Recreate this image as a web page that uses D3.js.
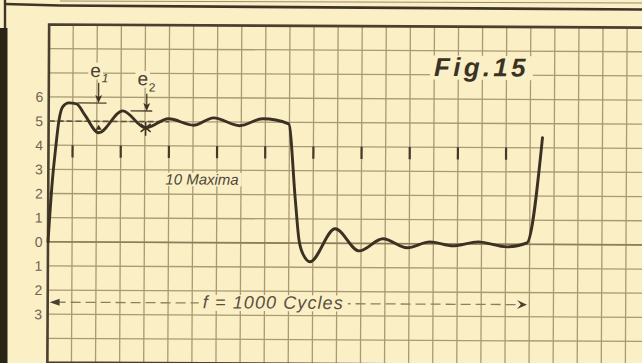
<!DOCTYPE html>
<html>
<head>
<meta charset="utf-8">
<script src="https://cdn.jsdelivr.net/npm/d3@7"></script>
<style>
  html, body { margin: 0; padding: 0; background: #fbefc6; overflow: hidden; }
  svg { display: block; }
</style>
</head>
<body>
<svg id="chart" width="642" height="363"></svg>
<script>
// ---- data -------------------------------------------------------------
// Grid: one cell = one unit on both axes
const gridColumns = d3.range(0, 26);          // vertical rulings
const gridRows = d3.range(-5, 10);            // horizontal rulings

// Amplitude scale printed at the left (below zero the sign is omitted)
const yTickValues = [6, 5, 4, 3, 2, 1, 0, -1, -2, -3];
const yTickLabels = ["6", "5", "4", "3", "2", "1", "0", "1", "2", "3"];

// Square-wave response with overshoot and ringing (x in grid cells)
const waveX = [0, 0.17, 0.29, 0.42, 0.58, 0.83, 1.16, 1.5, 2.08, 3.07, 4.03, 4.98,
               6.02, 6.85, 7.93, 8.89, 9.97, 10.26, 10.42, 10.63, 10.88, 11.92,
               12.92, 13.91, 14.91, 15.86, 16.82, 17.86, 19.06, 19.89, 20.51];
const waveY = [0, 2.57, 3.81, 4.97, 5.59, 5.76, 5.72, 5.26, 4.53, 5.44, 4.74, 5.12,
               4.86, 5.17, 4.85, 5.14, 4.94, 1.79, 0.14, -0.53, -0.77, 0.60,
               -0.31, 0.20, -0.17, 0.08, -0.08, 0.09, -0.11, 0.06, 4.42];

// Positions of the ten maxima marked under the upper half-cycle
const maximaX = [1, 3, 5, 7, 9, 11, 13, 15, 17, 19];

// Overshoot levels e1, e2 and the steady level
const e1Level = 5.76, e2Level = 5.44, steadyLevel = 5;

const figTitle = "Fig.15";
const maximaLabel = "10 Maxima";
const freqLabel = "f = 1000 Cycles";

// ---- drawing ----------------------------------------------------------
const W = 642, H = 363;
const paper = "#fbefc6";
const ink = "#3a3122";
const ruling = "#a99a71";

const svg = d3.select("#chart");
svg.append("rect").attr("width", W).attr("height", H).attr("fill", paper);

// page edge rules and the dark binding strip on the left
svg.append("path").attr("d", "M5,4 L60,5.5 L642,9.5")
  .attr("fill", "none").attr("stroke", "#3e3526").attr("stroke-width", 2.6);
svg.append("path").attr("d", "M60,1 L642,3")
  .attr("fill", "none").attr("stroke", "#9a8c6c").attr("stroke-width", 1);
svg.append("line").attr("x1", 5).attr("x2", 5).attr("y1", 0).attr("y2", 29)
  .attr("stroke", "#3e3526").attr("stroke-width", 2.4);
svg.append("rect").attr("x", 0).attr("y", 28).attr("width", 7.5).attr("height", H - 28)
  .attr("fill", "#2b2519");

const x = d3.scaleLinear().domain([0, 24]).range([48, 626]);
const y = d3.scaleLinear().domain([-5, 9]).range([362.5, 24.5]);

const g = svg.append("g").attr("transform", "rotate(0.3,48,242)");

// grid
const grid = g.append("g").attr("stroke", ruling).attr("stroke-width", 1.3);
grid.selectAll("line.v").data(gridColumns).join("line").attr("class", "v")
  .attr("x1", d => x(d)).attr("x2", d => x(d))
  .attr("y1", y(9)).attr("y2", y(-5));
grid.selectAll("line.h").data(gridRows).join("line").attr("class", "h")
  .attr("x1", x(0)).attr("x2", x(25))
  .attr("y1", d => y(d)).attr("y2", d => y(d));

// heavier zero line
g.append("line").attr("x1", x(0)).attr("x2", x(25)).attr("y1", y(0)).attr("y2", y(0))
  .attr("stroke", "#8c7e5c").attr("stroke-width", 1.6);

// frame
g.append("path")
  .attr("d", `M${x(25)},${y(9)} L${x(0)},${y(9)} L${x(0)},${y(-5)} L${x(25)},${y(-5)}`)
  .attr("fill", "none").attr("stroke", "#4a402f").attr("stroke-width", 2.6);

// layers: marks, then paper patches behind labels, then labels
const markLayer = g.append("g");
const bgLayer = g.append("g");
const textLayer = g.append("g");

function label(text, cx, cy, opts) {
  const t = textLayer.append("text")
    .attr("x", x(cx)).attr("y", y(cy))
    .attr("font-family", opts.family || "'Liberation Sans', Arial, sans-serif")
    .attr("font-size", opts.size)
    .attr("font-style", opts.style || "normal")
    .attr("font-weight", opts.weight || "normal")
    .attr("letter-spacing", opts.spacing || 0)
    .attr("fill", opts.fill || ink)
    .text(text);
  if (opts.pad !== undefined) {
    const b = t.node().getBBox();
    bgLayer.append("rect")
      .attr("x", b.x - opts.pad).attr("y", b.y + b.height * 0.12)
      .attr("width", b.width + opts.pad * 2).attr("height", b.height * 0.8)
      .attr("fill", paper);
  }
  return t;
}

// y-axis labels
const axis = g.append("g")
  .attr("transform", `translate(42.5,0)`)
  .call(d3.axisLeft(y).tickValues(yTickValues)
    .tickFormat((d, i) => yTickLabels[i]).tickSize(0).tickPadding(0));
axis.select(".domain").remove();
axis.selectAll("text")
  .attr("font-family", "'Liberation Sans', Arial, sans-serif")
  .attr("font-size", 14).attr("fill", "#6f6450");

// dashed steady level
markLayer.append("line")
  .attr("x1", x(0)).attr("x2", x(5)).attr("y1", y(steadyLevel)).attr("y2", y(steadyLevel))
  .attr("stroke", "#5e523d").attr("stroke-width", 1.6).attr("stroke-dasharray", "6,3");

// maxima ticks
markLayer.selectAll("line.max").data(maximaX).join("line").attr("class", "max")
  .attr("x1", d => x(d)).attr("x2", d => x(d))
  .attr("y1", y(4.0)).attr("y2", y(3.5))
  .attr("stroke", "#433a2b").attr("stroke-width", 2.2);

// e1 / e2 level rules and arrows
function levelArrow(ax, level, top, x0, x1) {
  markLayer.append("line").attr("x1", x(x0)).attr("x2", x(x1))
    .attr("y1", y(level)).attr("y2", y(level))
    .attr("stroke", "#4a402f").attr("stroke-width", 1.3);
  markLayer.append("line").attr("x1", x(ax)).attr("x2", x(ax))
    .attr("y1", y(top)).attr("y2", y(level) - 4)
    .attr("stroke", "#4a402f").attr("stroke-width", 1.3);
  const tx = x(ax), ty = y(level);
  markLayer.append("path")
    .attr("d", `M${tx},${ty} L${tx - 3.5},${ty - 8} L${tx},${ty - 6} L${tx + 3.5},${ty - 8}Z`)
    .attr("fill", "#3a3122");
}
levelArrow(2.07, e1Level, 6.6, 1.2, 2.4);
levelArrow(4.07, e2Level, 6.15, 3.4, 4.3);

// little marks at the first two minima
{
  const cx = x(2.08), cy = y(4.53) - 4;
  markLayer.append("path").attr("d", `M${cx},${cy - 4} L${cx - 3},${cy + 1} L${cx + 3},${cy + 1}Z`)
    .attr("fill", "#3a3122");
  const sx = x(4.03), sy = y(4.74);
  markLayer.append("path")
    .attr("d", `M${sx - 5},${sy - 4} L${sx + 5},${sy + 4} M${sx - 5},${sy + 4} L${sx + 5},${sy - 4} M${sx},${sy - 6} L${sx},${sy + 8}`)
    .attr("stroke", "#3a3122").attr("stroke-width", 1.5);
}

// frequency span arrow
{
  const fy = y(-2.5), xl = x(0.08), xr = x(19.9);
  markLayer.append("line").attr("x1", xl + 6).attr("x2", xr - 6).attr("y1", fy).attr("y2", fy)
    .attr("stroke", "#8b7f62").attr("stroke-width", 1.3).attr("stroke-dasharray", "10,5");
  markLayer.append("path").attr("d", `M${xl},${fy} L${xl + 10},${fy - 3.5} L${xl + 10},${fy + 3.5}Z`)
    .attr("fill", "#4a402f");
  markLayer.append("path")
    .attr("d", `M${xr},${fy} L${xr - 10},${fy - 4.5} L${xr - 6},${fy} L${xr - 10},${fy + 4.5}Z`)
    .attr("fill", "#4a402f");
}

// text
label("e", 1.72, 6.83, { size: 19, fill: "#4a4132", pad: 2 });
label("1", 2.2, 6.62, { size: 12, style: "italic", fill: "#4a4132" });
label("e", 3.68, 6.5, { size: 19, fill: "#4a4132", pad: 2 });
label("2", 4.15, 6.25, { size: 12, fill: "#4a4132" });
label(maximaLabel, 4.86, 2.4, { size: 15, style: "italic", fill: "#4f4636", pad: 3 });
label(freqLabel, 6.44, -2.72, { size: 18, style: "italic", spacing: 1.1, fill: "#5a503e", pad: 4 });
label(figTitle, 15.99, 6.95, { size: 26, style: "italic", weight: "bold", spacing: 3.3, fill: "#3a3224", pad: 4 });

// the waveform
const line = d3.line().x(d => x(d[0])).y(d => y(d[1])).curve(d3.curveMonotoneX);
g.append("path")
  .datum(waveX.map((v, i) => [v, waveY[i]]))
  .attr("d", line)
  .attr("fill", "none").attr("stroke", ink).attr("stroke-width", 2.9)
  .attr("stroke-linejoin", "round").attr("stroke-linecap", "round");
</script>
</body>
</html>
